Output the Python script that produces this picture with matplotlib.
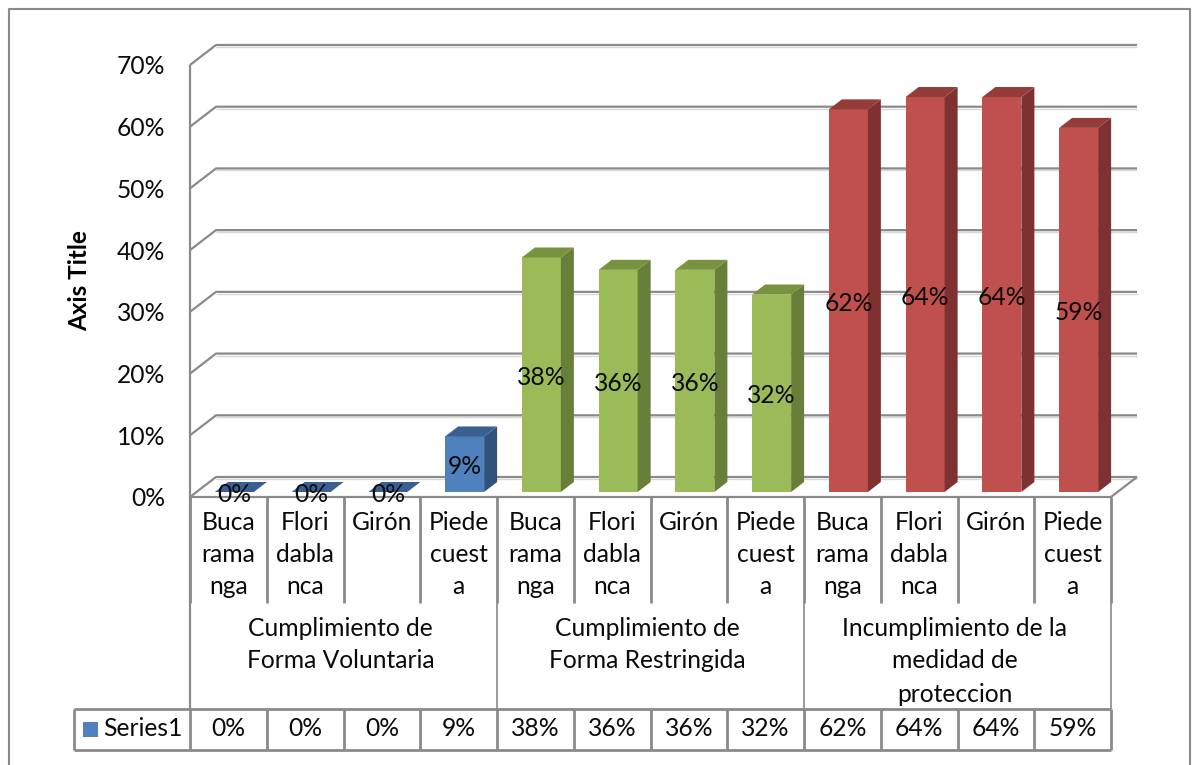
"""Pseudo-3D column chart with a data table under the axis."""
import matplotlib
matplotlib.use("Agg")
import matplotlib.pyplot as plt
from matplotlib.patches import Polygon, Rectangle
from matplotlib.ticker import PercentFormatter

GROUPS = [
    ["Cumplimiento de", "Forma Voluntaria"],
    ["Cumplimiento de", "Forma Restringida"],
    ["Incumplimiento de la", "medidad de", "proteccion"],
]
CITIES = [["Buca", "rama", "nga"], ["Flori", "dabla", "nca"], ["Girón"], ["Piede", "cuest", "a"]]
VALUES = [0, 0, 0, 9, 38, 36, 36, 32, 62, 64, 64, 59]
Y_TICKS = [0, 10, 20, 30, 40, 50, 60, 70]
SERIES_NAME = "Series1"

FRONT = ["#4F81BD", "#9BBB59", "#C0504D"]
SIDE = ["#31527A", "#677F38", "#7E3130"]
TOP = ["#3A6091", "#78933F", "#943C3A"]
LINE = "#8A8A8A"
SHADOW = "#D8D8D8"
TEXT = "#0A0A0A"
FONT_SIZE = 17.7

WIDTH, HEIGHT = 1193, 765
LEFT, RIGHT, BASE, TOP_PX = 190, 1111, 497, 65

plt.rcParams["font.family"] = ["Lato", "DejaVu Sans"]

fig = plt.figure(figsize=(WIDTH / 100, HEIGHT / 100), dpi=100, facecolor="white")
ax = fig.add_axes([LEFT / WIDTH, 1 - BASE / HEIGHT, (RIGHT - LEFT) / WIDTH, (BASE - TOP_PX) / HEIGHT])
ax.set_xlim(0, 12)
ax.set_ylim(0, 70)
ax.patch.set_visible(False)
for spine in ax.spines.values():
    spine.set_visible(False)

# one pixel in data units, the table and the depth are laid out in pixels
dx = 12 / (RIGHT - LEFT)
dy = 70 / (BASE - TOP_PX)


def px_x(px):
    return (px - LEFT) * dx


def px_y(px):
    return (BASE - px) * dy


def rule(xs, ys, lw=1.6, color=LINE, zorder=1):
    ax.plot(xs, ys, color=color, lw=lw, clip_on=False, zorder=zorder, solid_capstyle="butt")


def label(x, y, text, **kw):
    ax.text(x, y, text, ha="center", va="center", fontsize=FONT_SIZE, color=TEXT, clip_on=False, **kw)


# walls and floor
depth_x, depth_y = 26 * dx, 20 * dy
for tick in Y_TICKS:
    rule([depth_x, 12 + depth_x], [tick + depth_y - 2 * dy] * 2, lw=1, color=SHADOW, zorder=0.5)
    rule([0, depth_x, 12 + depth_x], [tick, tick + depth_y, tick + depth_y])
rule([0, 12, 12 + depth_x], [0, 0, depth_y])
rule([0, 0], [70, px_y(709)])

ax.set_yticks(Y_TICKS)
ax.yaxis.set_major_formatter(PercentFormatter(decimals=0))
ax.tick_params(axis="y", length=0, pad=18, labelsize=FONT_SIZE, labelcolor=TEXT)
ax.set_xticks([])
fig.text(80 / WIDTH, 1 - 281 / HEIGHT, "Axis Title", rotation=90, ha="center", va="center",
         fontsize=17.5, fontweight="bold", color="black")

# bars: front face through ax.bar, side and top as polygons off the same values
bar_w = 39 * dx
lift = 5 * dy
bar_dx, bar_dy = 13 * dx, 10 * dy
for i, value in enumerate(VALUES):
    group = i // 4
    left = i + (76.75 - 39) / 2 * dx + 6 * dx
    ax.bar(left, value, width=bar_w, bottom=lift, align="edge", color=FRONT[group], zorder=3, clip_on=False)
    right = left + bar_w
    top = lift + value
    ax.add_patch(Polygon([(right, lift), (right + bar_dx, lift + bar_dy), (right + bar_dx, top + bar_dy), (right, top)],
                         closed=True, color=SIDE[group], lw=0, zorder=3, clip_on=False))
    ax.add_patch(Polygon([(left, top), (right, top), (right + bar_dx, top + bar_dy), (left + bar_dx, top + bar_dy)],
                         closed=True, color=TOP[group], lw=0, zorder=3, clip_on=False))
    label(left + bar_w / 2, lift + value / 2 - 2.5 * dy, f"{value}%", zorder=5)

# axis table: cities, groups, values
for i in range(13):
    rule([i, i], [0, px_y(603)], lw=2)
    rule([i, i], [px_y(709), px_y(750)], lw=2)
for i in (0, 4, 8, 12):
    rule([i, i], [px_y(603), px_y(709)], lw=1.2)
rule([px_x(74), 12], [px_y(709), px_y(709)], lw=2)
rule([px_x(74), 12], [px_y(750), px_y(750)], lw=2)
rule([px_x(74), px_x(74)], [px_y(709), px_y(750)], lw=2)

city_rows = [523, 555, 587]
for i in range(12):
    for row, part in zip(city_rows, CITIES[i % 4]):
        label(i + 0.5, px_y(row), part)
    label(i + 0.5, px_y(729), f"{VALUES[i]}%")

group_rows = [629, 661, 694]
for g, lines in enumerate(GROUPS):
    for row, part in zip(group_rows, lines):
        label(g * 4 + 2 - 3 * dx, px_y(row), part)

ax.add_patch(Rectangle((px_x(83), px_y(737)), 15 * dx, 15 * dy, color=FRONT[0], lw=0, clip_on=False))
label(px_x(142.5), px_y(729), SERIES_NAME)

# chart frame, open at the bottom of the crop
rule([px_x(8.5), px_x(8.5), px_x(1190), px_x(1190)], [px_y(765), px_y(8.5), px_y(8.5), px_y(765)], lw=1.5)

fig.savefig("out.png", dpi=100, facecolor="white")
